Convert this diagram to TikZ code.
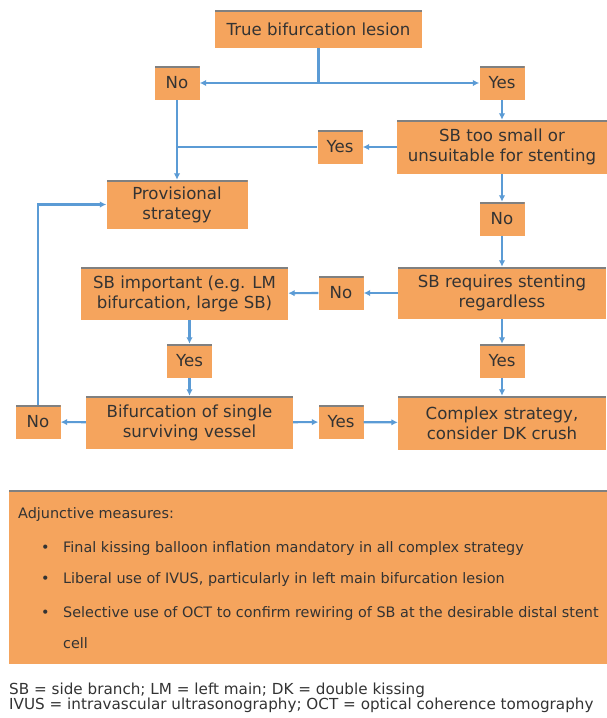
\documentclass[tikz,border=0pt]{standalone}
\usepackage{fontspec}
\setmainfont{DejaVu Sans}
\usepackage{tikz}
\usetikzlibrary{arrows.meta}
\definecolor{boxfill}{HTML}{F5A45D}
\definecolor{edge}{HTML}{808080}
\definecolor{flow}{HTML}{5B9BD5}
\definecolor{ink}{HTML}{333333}
\tikzset{
  box/.style={fill=boxfill, text=ink, align=center, inner sep=0pt,
    font=\fontsize{16.6}{20}\selectfont,
    path picture={\draw[edge, line width=4pt]
      (path picture bounding box.north west) -- (path picture bounding box.north east);}},
  tag/.style={box, minimum width=45pt, minimum height=34pt},
  wire/.style={draw=flow, line width=2.2pt},
  arr/.style={wire, -{Latex[length=6.5pt,width=6.5pt]}},
  note/.style={text=ink, anchor=base west, inner sep=0pt, font=\fontsize{14.4}{16}\selectfont},
  foot/.style={note, font=\fontsize{15.2}{16}\selectfont},
}
\begin{document}
\begin{tikzpicture}[x=1pt,y=-1pt]
  \useasboundingbox (0,0) rectangle (606,718);
  % main boxes
  \node[box, minimum width=207pt, minimum height=38pt] (lesion) at (318.5,29) {True bifurcation lesion};
  \node[box, minimum width=210pt, minimum height=54pt] (small) at (502,147) {SB too small or\\unsuitable for stenting};
  \node[box, minimum width=141pt, minimum height=49pt] (prov) at (177,204.5) {Provisional\\strategy};
  \node[box, minimum width=208pt, minimum height=52pt] (req) at (502,293) {SB requires stenting\\regardless};
  \node[box, minimum width=207pt, minimum height=53pt] (imp) at (184.5,293.5) {SB important (e.g. LM\\bifurcation, large SB)};
  \node[box, minimum width=207pt, minimum height=53pt] (single) at (189.5,422.5) {Bifurcation of single\\surviving vessel};
  \node[box, minimum width=208pt, minimum height=54pt] (cplx) at (502,423) {Complex strategy,\\consider DK crush};
  % yes / no tags
  \node[tag] (noA) at (177,83) {No};
  \node[tag] (yesA) at (502,83) {Yes};
  \node[tag] (yesB) at (340,147) {Yes};
  \node[tag] (noB) at (502,219) {No};
  \node[tag] (noC) at (341,293) {No};
  \node[tag] (yesC) at (189.5,361) {Yes};
  \node[tag] (yesD) at (502,361) {Yes};
  \node[tag] (noD) at (38,422) {No};
  \node[tag] (yesE) at (341,422) {Yes};
  % connectors
  \coordinate (split) at (318.5,83);
  \draw[wire] (lesion) -- (split);
  \draw[arr] (split) -- (noA);
  \draw[arr] (split) -- (yesA);
  \draw[arr] (yesA) -- (small);
  \draw[arr] (small) -- (yesB);
  \draw[wire] (yesB.west) -- (yesB.west -| noA.south);
  \draw[arr] (noA) -- (prov);
  \draw[arr] (small) -- (noB);
  \draw[arr] (noB) -- (req);
  \draw[arr] (req) -- (noC);
  \draw[arr] (noC) -- (imp);
  \draw[arr] (yesC.north |- imp.south) -- (yesC.north);
  \draw[arr] (yesC) -- (single);
  \draw[arr] (req) -- (yesD);
  \draw[arr] (yesD) -- (cplx);
  \draw[arr] (single) -- (noD);
  \draw[arr] (single) -- (yesE);
  \draw[arr] (yesE) -- (cplx);
  \draw[arr] (noD) |- (prov);
  % adjunctive measures
  \node[box, anchor=north west, minimum width=600pt, minimum height=174pt] (adj) at (9,490) {};
  \node[note] (adjhead) at (18,518) {Adjunctive measures:};
  \foreach \y/\txt in {552/Final kissing balloon inflation mandatory in all complex strategy,
                       583/{Liberal use of IVUS, particularly in left main bifurcation lesion},
                       617/Selective use of OCT to confirm rewiring of SB at the desirable distal stent} {
    \node[note] at (41,\y) {\textbullet};
    \node[note] at (63,\y) {\txt};
  }
  \node[note] (cell) at (63,648) {cell};
  % abbreviations
  \node[foot] (abbr1) at (9,694) {SB = side branch; LM = left main; DK = double kissing};
  \node[foot] (abbr2) at (9,709.5) {IVUS = intravascular ultrasonography; OCT = optical coherence tomography};
\end{tikzpicture}
\end{document}
